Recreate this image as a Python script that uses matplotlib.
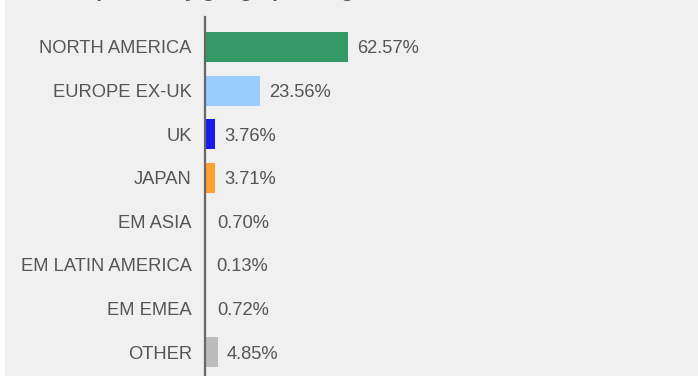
import matplotlib
matplotlib.use("Agg")
import matplotlib.pyplot as plt
from matplotlib.patches import Rectangle

plt.rcParams['font.family'] = ['Liberation Sans', 'DejaVu Sans']

regions = ['NORTH AMERICA', 'EUROPE EX-UK', 'UK', 'JAPAN', 'EM ASIA',
           'EM LATIN AMERICA', 'EM EMEA', 'OTHER']
weights = [62.57, 23.56, 3.76, 3.71, 0.70, 0.13, 0.72, 4.85]
colors = ['#339966', '#99ccff', '#1a1aee', '#ffa033', '#f0f0f0',
          '#f0f0f0', '#f0f0f0', '#bbbbbb']

W, H = 698, 376
fig = plt.figure(figsize=(W / 100, H / 100), dpi=100)
fig.patch.set_facecolor('white')

# grey panel behind everything, leaving a thin white strip on the left
fig.patches.append(Rectangle((5 / W, 0), 1 - 5 / W, 1, transform=fig.transFigure,
                             facecolor='#f0f0f0', edgecolor='none', zorder=-1))

# title sits above the visible area, only its descenders show
fig.text(10 / W, (H + 3) / H, 'Stock exposure by geographic region',
         fontsize=15, fontweight='bold', color='#555555', va='baseline')

ax = fig.add_axes([205 / W, 0, 1 - 205 / W, (H - 17) / H])
ax.set_facecolor('none')

x0 = -0.8  # bars start right at the axis line
y = list(range(len(regions)))
ax.barh(y, [v - x0 for v in weights], left=x0, height=0.69, color=colors, zorder=2)

for yi, v in zip(y, weights):
    ax.annotate(f'{v:.2f}%', (v, yi), xytext=(6.5, 0), textcoords='offset points',
                va='center_baseline', ha='left', fontsize=13.2, color='#555555')

ax.set_xlim(x0, 217.7)
ax.set_ylim(len(regions) - 1 + 0.546, -0.688)
ax.set_yticks(y)
ax.set_yticklabels(regions, fontsize=13.2, color='#555555', va='center_baseline')
ax.tick_params(axis='y', length=0, pad=9.5)
ax.set_xticks([])

for side in ['top', 'right', 'bottom']:
    ax.spines[side].set_visible(False)
ax.spines['left'].set_color('#666666')
ax.spines['left'].set_linewidth(1.6)
ax.spines['left'].set_zorder(3)

fig.savefig('out.png', dpi=100)
